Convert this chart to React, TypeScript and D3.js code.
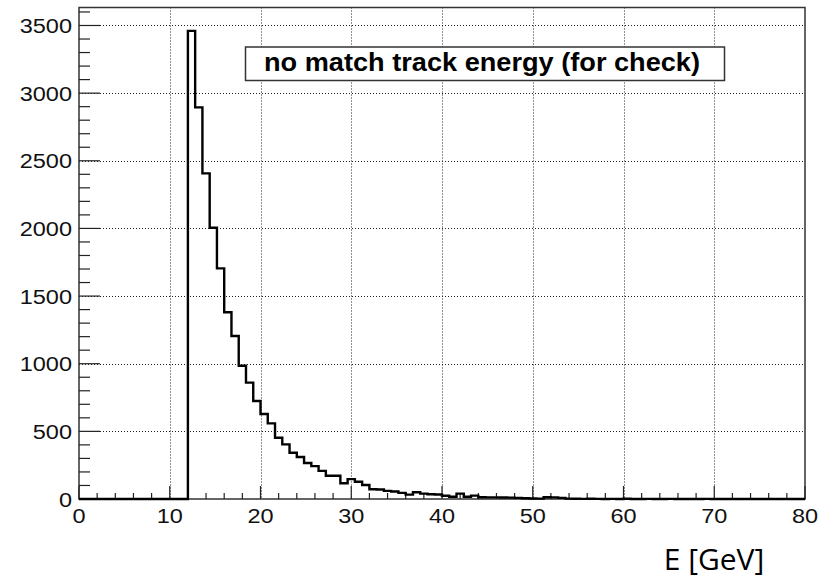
import React, { useEffect, useRef } from 'react';
import * as d3 from 'd3';

// histogram: 100 bins of 0.8 GeV from 0 to 80
const binLow = 0;
const binWidth = 0.8;
const counts = [
  0, 0, 0, 0, 0, 0, 0, 0, 0, 0,
  0, 0, 0, 0, 0, 3460, 2895, 2407, 2005, 1705,
  1380, 1205, 985, 860, 724, 628, 559, 453, 404, 342,
  310, 266, 243, 208, 172, 172, 116, 147, 128, 103,
  72, 70, 60, 55, 45, 32, 50, 40, 35, 33,
  24, 17, 40, 17, 25, 13, 12, 12, 11, 10,
  8, 6, 4, 3, 13, 12, 8, 3, 2, 1,
  2, 1, 0, 1, 0, 2, 0, 0, 1, 0,
  0, 1, 0, 0, 0, 0, 1, 0, 0, 0,
  0, 0, 0, 0, 0, 0, 0, 0, 0, 0
];
const xTicks = [0, 10, 20, 30, 40, 50, 60, 70, 80];
const yTicks = [0, 500, 1000, 1500, 2000, 2500, 3000, 3500];
const titleText = 'no match track energy (for check)';
const xTitle = 'E [GeV]';

const W = 833;
const H = 579;

const App = () => {
  const svgRef = useRef(null);

  useEffect(() => {
    const svg = d3.select(svgRef.current);
    svg.selectAll('*').remove();

    const frame = { left: 79, right: 805, top: 7.5, bottom: 499 };
    const yMax = d3.max(counts) * 1.05;

    const x = d3.scaleLinear().domain([0, 80]).range([frame.left, frame.right]);
    const y = d3.scaleLinear().domain([0, yMax]).range([frame.bottom, frame.top]);

    svg.append('rect')
      .attr('width', W).attr('height', H)
      .attr('fill', '#fff');

    // grid
    const grid = svg.append('g')
      .attr('stroke', '#222')
      .attr('stroke-width', 1)
      .attr('stroke-dasharray', '1,2');
    grid.selectAll('.gx')
      .data(xTicks.slice(1, -1))
      .enter().append('line')
      .attr('x1', d => Math.round(x(d)) + 0.5).attr('x2', d => Math.round(x(d)) + 0.5)
      .attr('y1', frame.top).attr('y2', frame.bottom);
    grid.selectAll('.gy')
      .data(yTicks.slice(1))
      .enter().append('line')
      .attr('x1', frame.left).attr('x2', frame.right)
      .attr('y1', d => Math.round(y(d)) + 0.5).attr('y2', d => Math.round(y(d)) + 0.5);

    // frame
    svg.append('rect')
      .attr('x', frame.left).attr('y', frame.top)
      .attr('width', frame.right - frame.left)
      .attr('height', frame.bottom - frame.top)
      .attr('fill', 'none')
      .attr('stroke', '#333')
      .attr('stroke-width', 1.5);

    // ticks
    const ticks = svg.append('g').attr('stroke', '#222').attr('stroke-width', 1.2);
    const yMinor = d3.range(0, yMax, 100);
    ticks.selectAll('.ty')
      .data(yMinor)
      .enter().append('line')
      .attr('x1', frame.left)
      .attr('x2', d => frame.left + (d % 500 === 0 ? 21 : 11))
      .attr('y1', d => y(d)).attr('y2', d => y(d));
    const xMinor = d3.range(0, 81, 2);
    ticks.selectAll('.tx')
      .data(xMinor)
      .enter().append('line')
      .attr('x1', d => x(d)).attr('x2', d => x(d))
      .attr('y1', frame.bottom)
      .attr('y2', d => frame.bottom - (d % 10 === 0 ? 13 : 6));

    // histogram outline
    const pts = counts.map((c, i) => [binLow + i * binWidth, c]);
    pts.push([binLow + counts.length * binWidth, counts[counts.length - 1]]);
    const line = d3.line()
      .x(d => x(d[0]))
      .y(d => y(d[1]))
      .curve(d3.curveStepAfter);
    svg.append('path')
      .attr('d', line(pts))
      .attr('fill', 'none')
      .attr('stroke', '#000')
      .attr('stroke-width', 2.4);

    // labels (ROOT text looks horizontally stretched)
    const sx = 1.12;
    const font = '"Liberation Sans", Arial, Helvetica, sans-serif';
    yTicks.forEach(t => {
      svg.append('text')
        .attr('transform', `translate(72, ${y(t) + 7.5}) scale(${sx},1)`)
        .attr('text-anchor', 'end')
        .style('font-family', font)
        .style('font-size', '21px')
        .attr('fill', '#111')
        .text(t);
    });
    xTicks.forEach(t => {
      svg.append('text')
        .attr('transform', `translate(${x(t)}, 523) scale(${sx},1)`)
        .attr('text-anchor', 'middle')
        .style('font-family', font)
        .style('font-size', '21px')
        .attr('fill', '#111')
        .text(t);
    });

    // title box
    svg.append('rect')
      .attr('x', 245.5).attr('y', 47)
      .attr('width', 479).attr('height', 33.5)
      .attr('fill', '#fff')
      .attr('stroke', '#333')
      .attr('stroke-width', 1.5);
    svg.append('text')
      .attr('x', 264).attr('y', 71)
      .attr('textLength', 436)
      .attr('lengthAdjust', 'spacingAndGlyphs')
      .style('font-family', font)
      .style('font-weight', 'bold')
      .style('font-size', '25px')
      .attr('fill', '#000')
      .text(titleText);

    // axis title
    svg.append('text')
      .attr('x', 714).attr('y', 570)
      .attr('text-anchor', 'middle')
      .style('font-family', '"Open Sans", "DejaVu Sans", sans-serif')
      .style('font-size', '30px')
      .attr('fill', '#000')
      .text(xTitle);
  }, []);

  return (
    <div style={{ position: 'absolute', left: 0, top: 0 }}>
      <svg ref={svgRef} width={W} height={H}></svg>
    </div>
  );
};

export default App;
